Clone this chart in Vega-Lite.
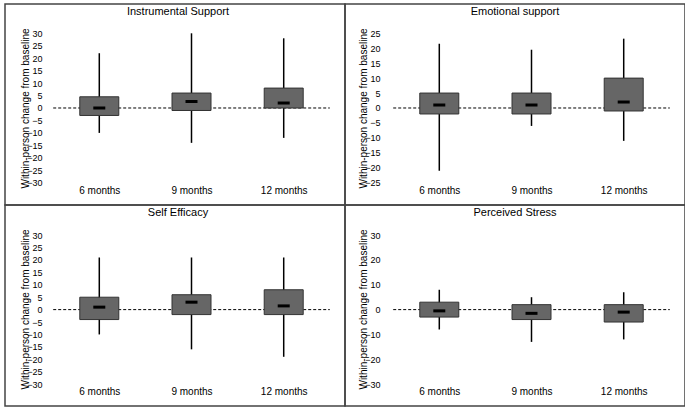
{
  "$schema": "https://vega.github.io/schema/vega-lite/v6.json",
  "padding": {"left": 4, "top": 3, "right": 1, "bottom": 2},
  "background": "white",
  "spacing": 0,
  "bounds": "flush",
  "columns": 2,
  "datasets": {
    "stats": [
      {"panel": "Instrumental Support", "t": 1, "lo": -10, "q1": -3, "med": 0, "q3": 4.5, "hi": 22},
      {"panel": "Instrumental Support", "t": 2, "lo": -14, "q1": -1, "med": 2.6, "q3": 6, "hi": 30},
      {"panel": "Instrumental Support", "t": 3, "lo": -12, "q1": 0, "med": 2, "q3": 8, "hi": 28},
      {"panel": "Emotional support", "t": 1, "lo": -21, "q1": -2, "med": 1, "q3": 5, "hi": 21.5},
      {"panel": "Emotional support", "t": 2, "lo": -6, "q1": -2, "med": 1, "q3": 5, "hi": 19.5},
      {"panel": "Emotional support", "t": 3, "lo": -11, "q1": -1, "med": 2, "q3": 10, "hi": 23.2},
      {"panel": "Self Efficacy", "t": 1, "lo": -10, "q1": -4, "med": 1, "q3": 5, "hi": 21},
      {"panel": "Self Efficacy", "t": 2, "lo": -16, "q1": -2, "med": 3, "q3": 6, "hi": 21},
      {"panel": "Self Efficacy", "t": 3, "lo": -19, "q1": -2, "med": 1.5, "q3": 8, "hi": 21},
      {"panel": "Perceived Stress", "t": 1, "lo": -8, "q1": -3, "med": -0.5, "q3": 3, "hi": 8},
      {"panel": "Perceived Stress", "t": 2, "lo": -13, "q1": -4, "med": -1.5, "q3": 2, "hi": 5},
      {"panel": "Perceived Stress", "t": 3, "lo": -12, "q1": -5, "med": -1, "q3": 2, "hi": 7}
    ]
  },
  "config": {
    "font": "Liberation Sans",
    "view": {"stroke": "#444", "strokeWidth": 1.5},
    "axis": {"grid": false, "domain": false, "ticks": false, "labelColor": "black", "titleColor": "black", "labelFont": "Liberation Sans", "titleFont": "Liberation Sans"},
    "axisX": {"orient": "bottom", "offset": -20, "labelPadding": 0, "labelFontSize": 10, "labelFlush": false, "labelOverlap": false},
    "axisY": {"orient": "left", "labelPadding": 2, "labelFontSize": 9, "labelOverlap": false, "labelFlush": false, "titleFontSize": 10, "titleFontWeight": "normal", "titlePadding": -4, "titleY": 104},
    "title": {"font": "Liberation Sans", "fontSize": 11, "fontWeight": "normal", "color": "black", "offset": -13, "baseline": "middle", "anchor": "middle"}
  },
  "concat": [
    {
      "width": 340, "height": 201,
      "title": {"text": "Instrumental Support", "dx": 3},
      "data": {"name": "stats"},
      "transform": [{"filter": "datum.panel === 'Instrumental Support'"}],
      "layer": [
        {
          "data": {"values": [{}]},
          "mark": {"type": "rule", "color": "black", "strokeWidth": 1, "strokeDash": [3, 2]},
          "encoding": {
            "x": {"datum": 0.5, "type": "quantitative", "scale": {"domain": [0.0316, 3.6105], "nice": false, "zero": false}, "axis": {"values": [1, 2, 3], "labelExpr": "datum.value == 1 ? '6 months' : datum.value == 2 ? '9 months' : '12 months'", "title": null}},
            "x2": {"datum": 3.5},
            "y": {"datum": 0, "type": "quantitative", "scale": {"domain": [-38.96, 41.77], "nice": false, "zero": false},
              "axis": {"values": [-30, -25, -20, -15, -10, -5, 0, 5, 10, 15, 20, 25, 30], "offset": -39, "title": "Within-person change from baseline"}}
          }
        },
        {
          "mark": {"type": "rule", "color": "black", "strokeWidth": 1.5},
          "encoding": {
            "x": {"field": "t", "type": "quantitative", "scale": {"domain": [0.0316, 3.6105], "nice": false, "zero": false}, "axis": {"values": [1, 2, 3], "labelExpr": "datum.value == 1 ? '6 months' : datum.value == 2 ? '9 months' : '12 months'", "title": null}},
            "y": {"field": "lo", "type": "quantitative", "scale": {"domain": [-38.96, 41.77], "nice": false, "zero": false},
              "axis": {"values": [-30, -25, -20, -15, -10, -5, 0, 5, 10, 15, 20, 25, 30], "offset": -39, "title": "Within-person change from baseline"}},
            "y2": {"field": "hi"}
          }
        },
        {
          "mark": {"type": "bar", "size": 39, "fill": "#666666", "stroke": "#333333", "strokeWidth": 1},
          "encoding": {
            "x": {"field": "t", "type": "quantitative", "scale": {"domain": [0.0316, 3.6105], "nice": false, "zero": false}, "axis": {"values": [1, 2, 3], "labelExpr": "datum.value == 1 ? '6 months' : datum.value == 2 ? '9 months' : '12 months'", "title": null}},
            "y": {"field": "q1", "type": "quantitative", "scale": {"domain": [-38.96, 41.77], "nice": false, "zero": false},
              "axis": {"values": [-30, -25, -20, -15, -10, -5, 0, 5, 10, 15, 20, 25, 30], "offset": -39, "title": "Within-person change from baseline"}},
            "y2": {"field": "q3"}
          }
        },
        {
          "mark": {"type": "tick", "orient": "horizontal", "size": 12, "thickness": 3, "color": "black", "opacity": 1},
          "encoding": {
            "x": {"field": "t", "type": "quantitative", "scale": {"domain": [0.0316, 3.6105], "nice": false, "zero": false}, "axis": {"values": [1, 2, 3], "labelExpr": "datum.value == 1 ? '6 months' : datum.value == 2 ? '9 months' : '12 months'", "title": null}},
            "y": {"field": "med", "type": "quantitative", "scale": {"domain": [-38.96, 41.77], "nice": false, "zero": false},
              "axis": {"values": [-30, -25, -20, -15, -10, -5, 0, 5, 10, 15, 20, 25, 30], "offset": -39, "title": "Within-person change from baseline"}}
          }
        }
      ]
    },
    {
      "width": 340, "height": 201,
      "title": {"text": "Emotional support"},
      "data": {"name": "stats"},
      "transform": [{"filter": "datum.panel === 'Emotional support'"}],
      "layer": [
        {
          "data": {"values": [{}]},
          "mark": {"type": "rule", "color": "black", "strokeWidth": 1, "strokeDash": [3, 2]},
          "encoding": {
            "x": {"datum": 0.5, "type": "quantitative", "scale": {"domain": [0.0316, 3.6105], "nice": false, "zero": false}, "axis": {"values": [1, 2, 3], "labelExpr": "datum.value == 1 ? '6 months' : datum.value == 2 ? '9 months' : '12 months'", "title": null}},
            "x2": {"datum": 3.5},
            "y": {"datum": 0, "type": "quantitative", "scale": {"domain": [-32.46, 34.8], "nice": false, "zero": false},
              "axis": {"values": [-25, -20, -15, -10, -5, 0, 5, 10, 15, 20, 25], "offset": -37, "title": "Within-person change from baseline"}}
          }
        },
        {
          "mark": {"type": "rule", "color": "black", "strokeWidth": 1.5},
          "encoding": {
            "x": {"field": "t", "type": "quantitative", "scale": {"domain": [0.0316, 3.6105], "nice": false, "zero": false}, "axis": {"values": [1, 2, 3], "labelExpr": "datum.value == 1 ? '6 months' : datum.value == 2 ? '9 months' : '12 months'", "title": null}},
            "y": {"field": "lo", "type": "quantitative", "scale": {"domain": [-32.46, 34.8], "nice": false, "zero": false},
              "axis": {"values": [-25, -20, -15, -10, -5, 0, 5, 10, 15, 20, 25], "offset": -37, "title": "Within-person change from baseline"}},
            "y2": {"field": "hi"}
          }
        },
        {
          "mark": {"type": "bar", "size": 39, "fill": "#666666", "stroke": "#333333", "strokeWidth": 1},
          "encoding": {
            "x": {"field": "t", "type": "quantitative", "scale": {"domain": [0.0316, 3.6105], "nice": false, "zero": false}, "axis": {"values": [1, 2, 3], "labelExpr": "datum.value == 1 ? '6 months' : datum.value == 2 ? '9 months' : '12 months'", "title": null}},
            "y": {"field": "q1", "type": "quantitative", "scale": {"domain": [-32.46, 34.8], "nice": false, "zero": false},
              "axis": {"values": [-25, -20, -15, -10, -5, 0, 5, 10, 15, 20, 25], "offset": -37, "title": "Within-person change from baseline"}},
            "y2": {"field": "q3"}
          }
        },
        {
          "mark": {"type": "tick", "orient": "horizontal", "size": 12, "thickness": 3, "color": "black", "opacity": 1},
          "encoding": {
            "x": {"field": "t", "type": "quantitative", "scale": {"domain": [0.0316, 3.6105], "nice": false, "zero": false}, "axis": {"values": [1, 2, 3], "labelExpr": "datum.value == 1 ? '6 months' : datum.value == 2 ? '9 months' : '12 months'", "title": null}},
            "y": {"field": "med", "type": "quantitative", "scale": {"domain": [-32.46, 34.8], "nice": false, "zero": false},
              "axis": {"values": [-25, -20, -15, -10, -5, 0, 5, 10, 15, 20, 25], "offset": -37, "title": "Within-person change from baseline"}}
          }
        }
      ]
    },
    {
      "width": 340, "height": 201,
      "title": {"text": "Self Efficacy", "dx": 3},
      "data": {"name": "stats"},
      "transform": [{"filter": "datum.panel === 'Self Efficacy'"}],
      "layer": [
        {
          "data": {"values": [{}]},
          "mark": {"type": "rule", "color": "black", "strokeWidth": 1, "strokeDash": [3, 2]},
          "encoding": {
            "x": {"datum": 0.5, "type": "quantitative", "scale": {"domain": [0.0316, 3.6105], "nice": false, "zero": false}, "axis": {"values": [1, 2, 3], "labelExpr": "datum.value == 1 ? '6 months' : datum.value == 2 ? '9 months' : '12 months'", "title": null}},
            "x2": {"datum": 3.5},
            "y": {"datum": 0, "type": "quantitative", "scale": {"domain": [-38.82, 42.14], "nice": false, "zero": false},
              "axis": {"values": [-30, -25, -20, -15, -10, -5, 0, 5, 10, 15, 20, 25, 30], "offset": -39, "title": "Within-person change from baseline"}}
          }
        },
        {
          "mark": {"type": "rule", "color": "black", "strokeWidth": 1.5},
          "encoding": {
            "x": {"field": "t", "type": "quantitative", "scale": {"domain": [0.0316, 3.6105], "nice": false, "zero": false}, "axis": {"values": [1, 2, 3], "labelExpr": "datum.value == 1 ? '6 months' : datum.value == 2 ? '9 months' : '12 months'", "title": null}},
            "y": {"field": "lo", "type": "quantitative", "scale": {"domain": [-38.82, 42.14], "nice": false, "zero": false},
              "axis": {"values": [-30, -25, -20, -15, -10, -5, 0, 5, 10, 15, 20, 25, 30], "offset": -39, "title": "Within-person change from baseline"}},
            "y2": {"field": "hi"}
          }
        },
        {
          "mark": {"type": "bar", "size": 39, "fill": "#666666", "stroke": "#333333", "strokeWidth": 1},
          "encoding": {
            "x": {"field": "t", "type": "quantitative", "scale": {"domain": [0.0316, 3.6105], "nice": false, "zero": false}, "axis": {"values": [1, 2, 3], "labelExpr": "datum.value == 1 ? '6 months' : datum.value == 2 ? '9 months' : '12 months'", "title": null}},
            "y": {"field": "q1", "type": "quantitative", "scale": {"domain": [-38.82, 42.14], "nice": false, "zero": false},
              "axis": {"values": [-30, -25, -20, -15, -10, -5, 0, 5, 10, 15, 20, 25, 30], "offset": -39, "title": "Within-person change from baseline"}},
            "y2": {"field": "q3"}
          }
        },
        {
          "mark": {"type": "tick", "orient": "horizontal", "size": 12, "thickness": 3, "color": "black", "opacity": 1},
          "encoding": {
            "x": {"field": "t", "type": "quantitative", "scale": {"domain": [0.0316, 3.6105], "nice": false, "zero": false}, "axis": {"values": [1, 2, 3], "labelExpr": "datum.value == 1 ? '6 months' : datum.value == 2 ? '9 months' : '12 months'", "title": null}},
            "y": {"field": "med", "type": "quantitative", "scale": {"domain": [-38.82, 42.14], "nice": false, "zero": false},
              "axis": {"values": [-30, -25, -20, -15, -10, -5, 0, 5, 10, 15, 20, 25, 30], "offset": -39, "title": "Within-person change from baseline"}}
          }
        }
      ]
    },
    {
      "width": 340, "height": 201,
      "title": {"text": "Perceived Stress"},
      "data": {"name": "stats"},
      "transform": [{"filter": "datum.panel === 'Perceived Stress'"}],
      "layer": [
        {
          "data": {"values": [{}]},
          "mark": {"type": "rule", "color": "black", "strokeWidth": 1, "strokeDash": [3, 2]},
          "encoding": {
            "x": {"datum": 0.5, "type": "quantitative", "scale": {"domain": [0.0316, 3.6105], "nice": false, "zero": false}, "axis": {"values": [1, 2, 3], "labelExpr": "datum.value == 1 ? '6 months' : datum.value == 2 ? '9 months' : '12 months'", "title": null}},
            "x2": {"datum": 3.5},
            "y": {"datum": 0, "type": "quantitative", "scale": {"domain": [-38.82, 42.14], "nice": false, "zero": false},
              "axis": {"values": [-30, -20, -10, 0, 10, 20, 30], "offset": -37, "title": "Within-person change from baseline"}}
          }
        },
        {
          "mark": {"type": "rule", "color": "black", "strokeWidth": 1.5},
          "encoding": {
            "x": {"field": "t", "type": "quantitative", "scale": {"domain": [0.0316, 3.6105], "nice": false, "zero": false}, "axis": {"values": [1, 2, 3], "labelExpr": "datum.value == 1 ? '6 months' : datum.value == 2 ? '9 months' : '12 months'", "title": null}},
            "y": {"field": "lo", "type": "quantitative", "scale": {"domain": [-38.82, 42.14], "nice": false, "zero": false},
              "axis": {"values": [-30, -20, -10, 0, 10, 20, 30], "offset": -37, "title": "Within-person change from baseline"}},
            "y2": {"field": "hi"}
          }
        },
        {
          "mark": {"type": "bar", "size": 39, "fill": "#666666", "stroke": "#333333", "strokeWidth": 1},
          "encoding": {
            "x": {"field": "t", "type": "quantitative", "scale": {"domain": [0.0316, 3.6105], "nice": false, "zero": false}, "axis": {"values": [1, 2, 3], "labelExpr": "datum.value == 1 ? '6 months' : datum.value == 2 ? '9 months' : '12 months'", "title": null}},
            "y": {"field": "q1", "type": "quantitative", "scale": {"domain": [-38.82, 42.14], "nice": false, "zero": false},
              "axis": {"values": [-30, -20, -10, 0, 10, 20, 30], "offset": -37, "title": "Within-person change from baseline"}},
            "y2": {"field": "q3"}
          }
        },
        {
          "mark": {"type": "tick", "orient": "horizontal", "size": 12, "thickness": 3, "color": "black", "opacity": 1},
          "encoding": {
            "x": {"field": "t", "type": "quantitative", "scale": {"domain": [0.0316, 3.6105], "nice": false, "zero": false}, "axis": {"values": [1, 2, 3], "labelExpr": "datum.value == 1 ? '6 months' : datum.value == 2 ? '9 months' : '12 months'", "title": null}},
            "y": {"field": "med", "type": "quantitative", "scale": {"domain": [-38.82, 42.14], "nice": false, "zero": false},
              "axis": {"values": [-30, -20, -10, 0, 10, 20, 30], "offset": -37, "title": "Within-person change from baseline"}}
          }
        }
      ]
    }
  ]
}
